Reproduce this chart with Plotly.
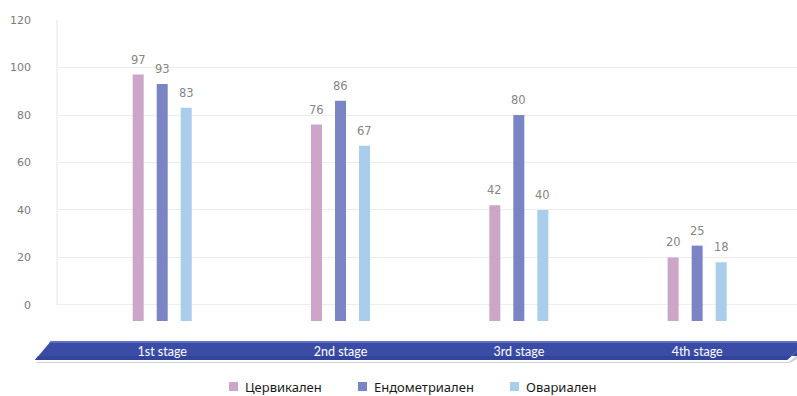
import plotly.graph_objects as go

# Survival by stage, three cancer types
stages = ["1st stage", "2nd stage", "3rd stage", "4th stage"]
cervical = [97, 76, 42, 20]
endometrial = [93, 86, 80, 25]
ovarian = [83, 67, 40, 18]
series_names = ["Цервикален", "Ендометриален", "Овариален"]
y_ticks = [0, 20, 40, 60, 80, 100, 120]

series_values = [cervical, endometrial, ovarian]
colors = ["#cca5c8", "#7b84c4", "#aacdeb"]

W, H = 797, 396
L, R, T, B = 57, 0, 19, 75
PW, PH = W - L - R, H - T - B
Y_MIN, Y_MAX = -6.74, 120.42
X_MIN, X_MAX = -0.59, 3.56
BARGAP, GROUPGAP = 0.596, 0.542
slot = (1 - BARGAP) / 3


def px(x):
    return (x - L) / PW


def py(y):
    return (H - B - y) / PH


fig = go.Figure()
for name, vals, col in zip(series_names, series_values, colors):
    fig.add_trace(go.Bar(
        name=name, x=stages, y=[v - Y_MIN for v in vals], base=Y_MIN,
        marker=dict(color=col, line=dict(width=0)), showlegend=False,
    ))

annotations = []
# value labels above the bars
for k, vals in enumerate(series_values):
    for i, v in enumerate(vals):
        annotations.append(dict(
            x=i + (k - 1) * slot, y=v, xref="x", yref="y", text=str(v),
            showarrow=False, yanchor="middle", yshift=15,
            font=dict(family="DejaVu Sans", size=11.5, color="#868686"),
        ))

shapes = [
    # left border of the value area
    dict(type="line", xref="paper", yref="y", x0=0, x1=0, y0=0, y1=120,
         line=dict(color="#e6e6e6", width=1), layer="below"),
]

# category band under the plot
def path(points):
    return "M " + " L ".join(f"{px(a):.5f},{py(b):.5f}" for a, b in points) + " Z"

shapes.append(dict(type="path", xref="paper", yref="paper", layer="below",
                   path=path([(37, 362), (789, 362), (797, 355), (797, 359), (790, 363), (36, 363)]),
                   fillcolor="#cfd1dc", line=dict(width=0)))
shapes.append(dict(type="path", xref="paper", yref="paper", layer="below",
                   path=path([(51, 341), (797, 341), (797, 351), (787, 360), (35, 360)]),
                   fillcolor="#3a4ca6", line=dict(width=0)))
shapes.append(dict(type="path", xref="paper", yref="paper", layer="below",
                   path=path([(51, 341), (797, 341), (797, 343), (49, 343)]),
                   fillcolor="#5e6ec2", line=dict(width=0)))
shapes.append(dict(type="path", xref="paper", yref="paper", layer="below",
                   path=path([(38, 356), (797, 356), (797, 351), (787, 360), (35, 360)]),
                   fillcolor="#33449a", line=dict(width=0)))

# legend drawn as swatches and labels
legend_left = [229, 358, 510]
for name, col, x0 in zip(series_names, colors, legend_left):
    shapes.append(dict(type="rect", xref="paper", yref="paper",
                       x0=px(x0), x1=px(x0 + 9), y0=py(382), y1=py(391),
                       fillcolor=col, line=dict(width=0)))
    annotations.append(dict(x=px(x0 + 14), y=py(386.5), xref="paper", yref="paper",
                            text=name, showarrow=False, xanchor="left", yanchor="middle",
                            font=dict(family="Noto Sans", size=13, color="#1a1a1a")))

fig.update_layout(
    width=W, height=H,
    margin=dict(l=L, r=R, t=T, b=B, pad=0),
    paper_bgcolor="white", plot_bgcolor="white",
    barmode="group", bargap=BARGAP, bargroupgap=GROUPGAP,
    shapes=shapes, annotations=annotations,
    xaxis=dict(
        type="category", range=[X_MIN, X_MAX], showgrid=False, zeroline=False,
        showline=False, ticks="", ticklabelstandoff=21,
        tickfont=dict(family="Lato", size=12.5, color="white"),
    ),
    yaxis=dict(
        range=[Y_MIN, Y_MAX], tickvals=y_ticks, showgrid=True, gridcolor="#ececec",
        gridwidth=1, zeroline=False, showline=False, ticks="",
        ticklabelstandoff=25,
        tickfont=dict(family="DejaVu Sans", size=11, color="#7a7a7a"),
    ),
    showlegend=False,
)

fig.write_html("out.html")
